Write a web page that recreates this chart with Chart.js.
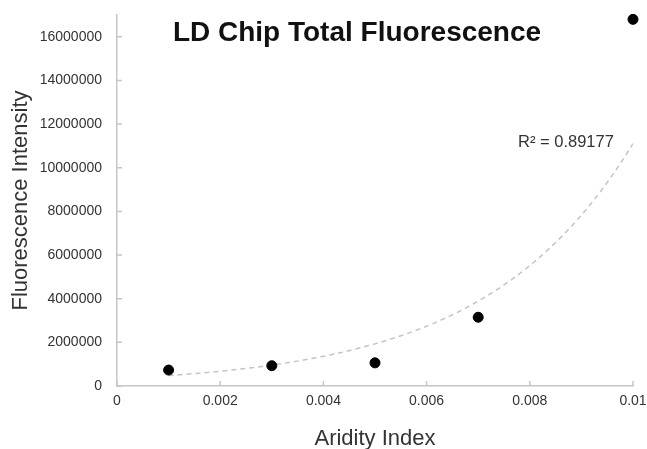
<!DOCTYPE html>
<html>
<head>
<meta charset="utf-8">
<script src="https://cdn.jsdelivr.net/npm/chart.js@4/dist/chart.umd.min.js"></script>
<style>
  html, body { margin: 0; padding: 0; background: #fff; }
</style>
</head>
<body>
<canvas id="chart" width="647" height="449"></canvas>
<script>
// values
var aridity = [0.001, 0.003, 0.005, 0.007, 0.01];
var fluorescence = [730000, 930000, 1060000, 3150000, 16800000];
var xTicks = [0, 0.002, 0.004, 0.006, 0.008, 0.01];
var yTicks = [0, 2000000, 4000000, 6000000, 8000000, 10000000, 12000000, 14000000, 16000000];
var chartTitle = 'LD Chip Total Fluorescence';
var rSquaredLabel = 'R\u00B2 = 0.89177';

var FONT = '"Liberation Sans", Arial, Helvetica, sans-serif';
var axisColor = '#c6c6c6';
var textColor = '#333333';

//
// Exponential trendline (y = a * e^(b x)), fitted on ln(y) like a spreadsheet does
//
function expTrend(xs, ys, steps) {
  var n = xs.length, mx = 0, my = 0;
  var ly = ys.map(function (v) { return Math.log(v); });
  for (var i = 0; i < n; i++) { mx += xs[i]; my += ly[i]; }
  mx /= n; my /= n;
  var sxy = 0, sxx = 0;
  for (var j = 0; j < n; j++) {
    sxy += (xs[j] - mx) * (ly[j] - my);
    sxx += (xs[j] - mx) * (xs[j] - mx);
  }
  var b = sxy / sxx;
  var a = Math.exp(my - b * mx);
  var x0 = Math.min.apply(null, xs), x1 = Math.max.apply(null, xs);
  var pts = [];
  for (var k = 0; k <= steps; k++) {
    var x = x0 + (x1 - x0) * k / steps;
    pts.push({ x: x, y: a * Math.exp(b * x) });
  }
  return pts;
}

var points = aridity.map(function (x, i) { return { x: x, y: fluorescence[i] }; });
var trend = expTrend(aridity, fluorescence, 60);

// tick marks point into the plot, and the title / R² sit inside it
var decorations = {
  id: 'decorations',
  afterDraw: function (chart) {
    var ctx = chart.ctx;
    var xs = chart.scales.x, ys = chart.scales.y;
    var area = chart.chartArea;

    ctx.save();
    ctx.strokeStyle = axisColor;
    ctx.lineWidth = 1.5;
    ctx.beginPath();
    xTicks.forEach(function (v) {
      var px = xs.getPixelForValue(v);
      ctx.moveTo(px, area.bottom);
      ctx.lineTo(px, area.bottom - 5);
    });
    yTicks.forEach(function (v) {
      var py = ys.getPixelForValue(v);
      ctx.moveTo(area.left, py);
      ctx.lineTo(area.left + 5, py);
    });
    ctx.stroke();

    ctx.fillStyle = '#111111';
    ctx.font = 'bold 28px ' + FONT;
    ctx.textAlign = 'center';
    ctx.textBaseline = 'middle';
    ctx.fillText(chartTitle, 357, 33);

    ctx.fillStyle = textColor;
    ctx.font = '16.5px ' + FONT;
    ctx.textAlign = 'left';
    ctx.fillText(rSquaredLabel, 518, 142);
    ctx.restore();
  }
};

new Chart(document.getElementById('chart'), {
  type: 'scatter',
  data: {
    datasets: [
      {
        label: 'points',
        data: points,
        backgroundColor: '#000000',
        borderColor: '#000000',
        pointRadius: 5,
        pointHoverRadius: 5,
        clip: false,
        order: 0
      },
      {
        label: 'trend',
        data: trend,
        showLine: true,
        borderColor: '#c4c4c4',
        borderWidth: 1.5,
        borderDash: [5, 4],
        pointRadius: 0,
        fill: false,
        order: 1
      }
    ]
  },
  options: {
    responsive: false,
    animation: false,
    layout: { padding: { top: 15, right: 14, left: 0, bottom: 0 } },
    plugins: {
      legend: { display: false },
      tooltip: { enabled: false }
    },
    scales: {
      x: {
        type: 'linear',
        min: 0,
        max: 0.01,
        afterBuildTicks: function (scale) {
          scale.ticks = xTicks.map(function (v) { return { value: v }; });
        },
        afterFit: function (scale) {
          scale.height = 63;
          scale.paddingLeft = 0;
          scale.paddingRight = 0;
        },
        grid: { display: true, drawOnChartArea: false, drawTicks: false },
        border: { color: axisColor, width: 1.5 },
        ticks: {
          padding: 7,
          color: textColor,
          font: { family: FONT, size: 14 },
          maxRotation: 0,
          callback: function (v) { return String(+Number(v).toFixed(4)); }
        },
        title: {
          display: true,
          text: 'Aridity Index',
          color: textColor,
          font: { family: FONT, size: 22, lineHeight: 1 },
          padding: { top: 0, bottom: -1 }
        }
      },
      y: {
        type: 'linear',
        min: 0,
        max: 17000000,
        afterBuildTicks: function (scale) {
          scale.ticks = yTicks.map(function (v) { return { value: v }; });
        },
        afterFit: function (scale) {
          scale.width = 117;
          scale.paddingTop = 0;
          scale.paddingBottom = 0;
        },
        grid: { display: true, drawOnChartArea: false, drawTicks: false },
        border: { color: axisColor, width: 1.5 },
        ticks: {
          padding: 15,
          color: textColor,
          font: { family: FONT, size: 14 },
          callback: function (v) { return String(v); }
        },
        title: {
          display: true,
          text: 'Fluorescence Intensity',
          color: textColor,
          font: { family: FONT, size: 22, lineHeight: 1 },
          padding: { top: 10, bottom: 0 }
        }
      }
    }
  },
  plugins: [decorations]
});
</script>
</body>
</html>
